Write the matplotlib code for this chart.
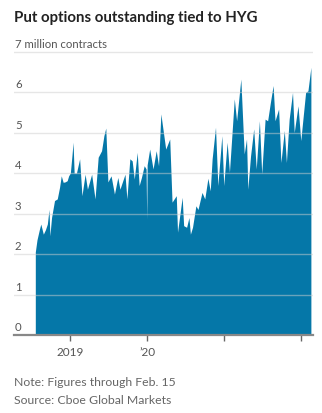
import matplotlib
matplotlib.use("Agg")
import matplotlib.pyplot as plt
import matplotlib.transforms as mtransforms
import pandas as pd

# values (million contracts)
dates = [
    "2018-07-20", "2018-07-28", "2018-08-08", "2018-08-15", "2018-08-27",
    "2018-09-06", "2018-09-15", "2018-09-23", "2018-09-27", "2018-10-05",
    "2018-10-19", "2018-11-01", "2018-11-12", "2018-11-20", "2018-11-29",
    "2018-12-08", "2018-12-18", "2018-12-25", "2019-01-02", "2019-01-10",
    "2019-01-15", "2019-01-20", "2019-01-31", "2019-02-15", "2019-02-26",
    "2019-03-13", "2019-03-24", "2019-04-13", "2019-04-29", "2019-05-14",
    "2019-05-30", "2019-06-10", "2019-06-19", "2019-06-29", "2019-07-14",
    "2019-07-30", "2019-08-15", "2019-08-25", "2019-09-18", "2019-09-27",
    "2019-10-11", "2019-10-22", "2019-11-01", "2019-11-15", "2019-11-24",
    "2019-12-05", "2019-12-18", "2019-12-27", "2019-12-30", "2020-01-01",
    "2020-01-13", "2020-01-29", "2020-02-13", "2020-02-24", "2020-03-06",
    "2020-03-29", "2020-04-17", "2020-04-28", "2020-05-18", "2020-05-24",
    "2020-06-15", "2020-06-22", "2020-07-06", "2020-07-17", "2020-07-24",
    "2020-08-03", "2020-08-19", "2020-08-29", "2020-09-17", "2020-09-30",
    "2020-10-15", "2020-10-26", "2020-11-04", "2020-11-20", "2020-12-01",
    "2020-12-20", "2020-12-29", "2021-01-14", "2021-01-25", "2021-02-17",
    "2021-02-28", "2021-03-20", "2021-04-05", "2021-04-16", "2021-04-22",
    "2021-05-05", "2021-05-20", "2021-06-01", "2021-06-16", "2021-06-27",
    "2021-07-13", "2021-07-25", "2021-08-07", "2021-08-20", "2021-08-29",
    "2021-09-15", "2021-09-26", "2021-10-12", "2021-10-22", "2021-11-04",
    "2021-11-20", "2021-11-28", "2021-12-16", "2021-12-29", "2022-01-21",
    "2022-02-01", "2022-02-15",
]
puts = [
    2.05, 2.35, 2.60, 2.74, 2.49,
    2.60, 2.74, 3.10, 2.45, 2.90,
    3.32, 3.36, 3.65, 3.93, 3.77,
    3.78, 3.81, 3.93, 4.00, 4.45,
    4.76, 4.00, 4.00, 4.35, 3.44,
    3.97, 3.60, 3.97, 3.36, 4.39,
    4.55, 4.92, 5.11, 3.78, 3.93,
    3.48, 3.89, 3.60, 3.97, 3.36,
    4.35, 4.30, 3.85, 4.51, 3.69,
    3.89, 4.18, 4.10, 2.86, 4.20,
    4.59, 4.10, 4.55, 4.18, 5.46,
    4.59, 4.84, 3.28, 3.44, 2.54,
    3.40, 2.70, 2.66, 2.90, 2.49,
    2.66, 3.19, 3.10, 3.52, 3.36,
    3.87, 3.56, 4.35, 5.13, 3.69,
    4.92, 3.69, 4.76, 4.02, 5.83,
    5.29, 6.32, 4.47, 4.84, 3.60,
    4.42, 5.09, 4.10, 5.29, 3.98,
    5.33, 5.29, 5.74, 6.16, 5.29,
    5.58, 4.26, 5.05, 4.26, 5.33,
    5.99, 5.00, 5.66, 4.80, 5.99,
    6.03, 6.61,
]
ytick_values = [0, 1, 2, 3, 4, 5, 6, 7]
ytick_labels = ["0", "1", "2", "3", "4", "5", "6", "7 million contracts"]
xtick_dates = ["2019-01-01", "2020-01-01", "2021-01-01", "2022-01-01"]
xtick_labels = ["2019", "\u201920", "", ""]

title = "Put options outstanding tied to HYG"
note = "Note: Figures through Feb. 15"
source = "Source: Cboe Global Markets"

plt.rcParams["font.family"] = ["Lato", "DejaVu Sans"]

x = pd.to_datetime(dates)
W, H = 322, 414
fig = plt.figure(figsize=(W / 100, H / 100), dpi=100)
ax = fig.add_axes([14 / W, 1 - 336 / H, (313 - 14) / W, (336 - 46) / H])

ax.fill_between(x, 0, puts, color="#0577a8", linewidth=0, zorder=1)

ax.set_xlim(pd.Timestamp("2018-04-10"), pd.Timestamp("2022-02-25"))
ax.set_ylim(0, (336 - 46) / 40.5)

for v in ytick_values:
    ax.axhline(v, color="#cfcfcf", alpha=0.5, linewidth=1.0, zorder=2)

trans = mtransforms.blended_transform_factory(ax.transAxes, ax.transData)
for v, lab in zip(ytick_values, ytick_labels):
    ax.text(0.003, v + 0.07, lab, transform=trans, ha="left", va="bottom",
            fontsize=8.2, color="#555555", zorder=3)

ax.set_yticks([])
ax.set_xticks(pd.to_datetime(xtick_dates))
ax.set_xticklabels(xtick_labels, fontsize=8.5, color="#555555")
ax.tick_params(axis="x", length=4, width=1, color="#666666", pad=4)

for s in ["top", "right", "left"]:
    ax.spines[s].set_visible(False)
ax.spines["bottom"].set_color("#888888")
ax.spines["bottom"].set_linewidth(1.6)
ax.spines["bottom"].set_zorder(4)

fig.text(14 / W, 1 - 18 / H, title, fontsize=10.8, fontweight="bold",
         color="#222222", va="center", ha="left")
fig.text(14 / W, 1 - 383 / H, note, fontsize=8.8, color="#666666",
         va="center", ha="left")
fig.text(14 / W, 1 - 401 / H, source, fontsize=8.8, color="#666666",
         va="center", ha="left")

fig.savefig("out.png", dpi=100)
